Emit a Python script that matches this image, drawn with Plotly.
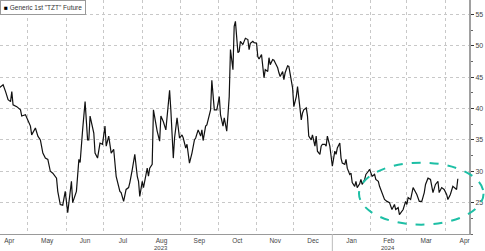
import plotly.graph_objects as go

dates = [
 "2023-04-08","2023-04-11","2023-04-13","2023-04-15","2023-04-17","2023-04-18","2023-04-19","2023-04-22","2023-04-25","2023-04-26",
 "2023-04-29","2023-04-30","2023-05-03","2023-05-04","2023-05-07","2023-05-09","2023-05-11","2023-05-13","2023-05-15","2023-05-17",
 "2023-05-19","2023-05-21","2023-05-24","2023-05-25","2023-05-27","2023-05-29","2023-05-31","2023-06-02","2023-06-05","2023-06-06",
 "2023-06-09","2023-06-11","2023-06-12","2023-06-14","2023-06-16","2023-06-18","2023-06-19","2023-06-20","2023-06-23","2023-06-24",
 "2023-06-26","2023-06-28","2023-06-30","2023-07-02","2023-07-03","2023-07-05","2023-07-07","2023-07-09","2023-07-11","2023-07-14",
 "2023-07-15","2023-07-17","2023-07-19","2023-07-21","2023-07-22","2023-07-24","2023-07-26","2023-07-28","2023-07-29","2023-07-30",
 "2023-08-01","2023-08-02","2023-08-05","2023-08-06","2023-08-07","2023-08-09","2023-08-10","2023-08-13","2023-08-15","2023-08-16",
 "2023-08-18","2023-08-20","2023-08-23","2023-08-24","2023-08-26","2023-08-27","2023-08-29","2023-08-31","2023-09-02","2023-09-03",
 "2023-09-05","2023-09-06","2023-09-08","2023-09-10","2023-09-12","2023-09-13","2023-09-15","2023-09-17","2023-09-18","2023-09-19",
 "2023-09-21","2023-09-22","2023-09-24","2023-09-25","2023-09-26","2023-09-28","2023-09-30","2023-10-02","2023-10-03","2023-10-05",
 "2023-10-06","2023-10-08","2023-10-09","2023-10-10","2023-10-11","2023-10-13","2023-10-14","2023-10-15","2023-10-17","2023-10-18",
 "2023-10-19","2023-10-21","2023-10-22","2023-10-23","2023-10-25","2023-10-26","2023-10-27","2023-10-29","2023-10-30","2023-11-01",
 "2023-11-02","2023-11-03","2023-11-05","2023-11-06","2023-11-07","2023-11-08","2023-11-10","2023-11-11","2023-11-12","2023-11-14",
 "2023-11-15","2023-11-16","2023-11-18","2023-11-19","2023-11-20","2023-11-22","2023-11-23","2023-11-24","2023-11-26","2023-11-27",
 "2023-11-29","2023-11-30","2023-12-01","2023-12-03","2023-12-04","2023-12-05","2023-12-07","2023-12-08","2023-12-09","2023-12-11",
 "2023-12-12","2023-12-13","2023-12-15","2023-12-16","2023-12-18","2023-12-19","2023-12-20","2023-12-22","2023-12-23","2023-12-24",
 "2023-12-26","2023-12-27","2023-12-28","2023-12-30","2023-12-31","2024-01-01","2024-01-03","2024-01-04","2024-01-05","2024-01-07",
 "2024-01-08","2024-01-09","2024-01-11","2024-01-12","2024-01-13","2024-01-15","2024-01-16","2024-01-17","2024-01-19","2024-01-20",
 "2024-01-21","2024-01-23","2024-01-24","2024-01-25","2024-01-27","2024-01-28","2024-01-30","2024-01-31","2024-02-02","2024-02-04",
 "2024-02-05","2024-02-07","2024-02-08","2024-02-10","2024-02-12","2024-02-14","2024-02-16","2024-02-18","2024-02-20","2024-02-21",
 "2024-02-23","2024-02-24","2024-02-27","2024-02-29","2024-03-01","2024-03-02","2024-03-04","2024-03-06","2024-03-08","2024-03-09",
 "2024-03-11","2024-03-13","2024-03-15","2024-03-16","2024-03-18","2024-03-20","2024-03-22","2024-03-24","2024-03-26","2024-03-27",
 "2024-03-29","2024-03-31","2024-04-02","2024-04-03","2024-04-05","2024-04-07","2024-04-10","2024-04-11",
]

values = [
 43.3,43.8,42.7,41.4,41.1,42.7,40.6,40.3,39.8,38.8,
 39.0,38.5,37.2,35.8,36.9,35.6,35.0,32.9,32.1,31.9,
 30.0,29.7,28.9,26.8,24.7,24.6,26.8,23.4,28.4,25.0,
 26.8,31.9,31.4,36.6,41.1,35.0,35.0,38.8,36.1,32.9,
 32.1,34.5,34.3,37.2,34.0,35.6,32.9,33.5,29.2,26.8,
 26.6,25.2,27.1,27.4,28.2,30.3,32.7,29.2,28.4,26.0,
 28.4,27.4,30.5,29.2,30.5,31.1,39.8,36.4,34.8,38.8,
 37.9,36.6,42.9,39.8,32.1,35.3,38.5,35.3,35.8,35.3,
 33.7,34.3,31.3,32.9,35.0,35.3,36.6,35.6,36.6,34.9,
 37.2,37.4,39.0,39.8,44.5,39.8,39.8,41.9,39.0,37.2,
 38.5,36.4,39.0,41.9,49.4,46.2,53.1,53.9,48.9,49.1,
 50.7,50.2,50.7,51.2,51.0,49.4,50.4,50.7,50.5,50.4,
 48.3,47.9,48.6,46.7,44.9,46.2,45.9,48.1,47.0,47.8,
 47.7,47.3,46.5,45.7,45.1,45.9,44.6,45.7,46.8,46.7,
 44.1,43.3,40.3,41.9,43.5,41.4,38.2,39.3,39.8,40.1,
 38.8,35.6,35.0,35.8,34.0,35.6,33.2,32.7,34.0,34.3,
 34.3,34.0,35.6,34.0,32.4,30.8,33.2,32.7,33.7,34.5,
 32.1,31.3,31.1,31.9,30.5,29.5,29.7,28.2,27.6,28.4,
 27.4,28.0,28.7,27.9,28.7,29.5,30.0,30.3,29.2,29.5,
 28.7,28.4,27.6,26.6,25.5,25.2,25.0,23.9,24.7,23.9,
 24.2,23.1,23.9,25.2,24.7,25.8,25.5,27.4,26.8,26.3,
 25.2,25.2,26.6,27.9,28.9,28.7,26.6,27.9,28.4,26.6,
 27.4,27.1,26.3,25.5,26.3,27.6,27.1,28.8,
]

series_name = 'Generic 1st "TZT" Future'
y_ticks = [25, 30, 35, 40, 45, 50, 55]
year_labels = [("2023-08-16", "2023"), ("2024-02-15", "2024")]

FONT = "Liberation Sans, Arial, sans-serif"
GRID = "#c8c8c8"

fig = go.Figure()
fig.add_trace(go.Scatter(x=dates, y=values, mode="lines",
                         line=dict(color="#111111", width=1.2),
                         showlegend=False, name=series_name))

fig.update_layout(
    width=485, height=251,
    margin=dict(l=0, r=16, t=0, b=17, pad=0),
    paper_bgcolor="white", plot_bgcolor="white",
    font=dict(family=FONT, size=7, color="#444"),
    xaxis=dict(
        type="date",
        range=["2023-04-08 12:00", "2024-04-20"],
        dtick="M1", tick0="2023-05-01", tickformat="%b",
        ticklabelmode="period",
        showgrid=True, gridcolor=GRID, griddash="dot", gridwidth=1,
        ticks="", showline=True, linecolor="#9a9a9a", linewidth=1,
        tickfont=dict(size=6.5, color="#444"),
        zeroline=False,
    ),
    yaxis=dict(
        side="right", range=[20, 57.3],
        tickvals=y_ticks,
        showgrid=True, gridcolor=GRID, griddash="dot", gridwidth=1,
        showline=True, linecolor="#a0a0a0", linewidth=2,
        ticks="outside", ticklen=3, tickwidth=1, tickcolor="#333",
        minor=dict(dtick=2.5, tick0=20, ticks="outside", ticklen=2, tickcolor="#666", showgrid=False),
        tickfont=dict(size=7, color="#444"),
        zeroline=False,
    ),
)

for xd, txt in year_labels:
    fig.add_annotation(x=xd, y=0, xref="x", yref="paper", text=txt,
                       showarrow=False, yanchor="top", yshift=-9,
                       font=dict(size=6, color="#444"))

# year separator
fig.add_shape(type="line", xref="x", yref="paper", x0="2024-01-01", x1="2024-01-01",
              y0=-0.075, y1=-0.0, line=dict(color="#bbbbbb", width=1))

# legend box
fig.add_annotation(x=0, y=1, xref="paper", yref="paper", xanchor="left", yanchor="top",
                   text="<span style='color:#000'>■</span> " + series_name,
                   showarrow=False, align="left",
                   font=dict(size=6.5, color="#333", family=FONT),
                   bgcolor="white", bordercolor="#999", borderwidth=1, borderpad=3)

# highlight ellipse
fig.add_shape(type="circle", xref="paper", yref="paper",
              x0=0.7655, x1=1.031, y0=0.04, y1=0.305,
              line=dict(color="#1dbfa5", width=2, dash="dash"))

fig.write_html("out.html")
